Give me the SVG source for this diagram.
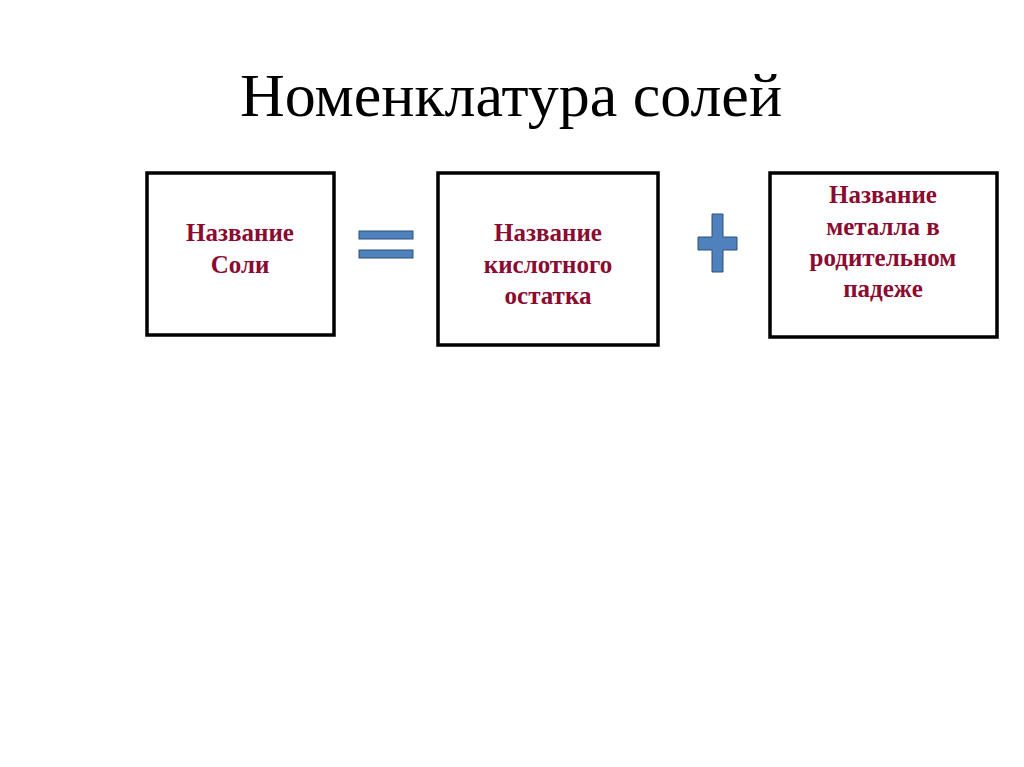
<svg xmlns="http://www.w3.org/2000/svg" width="1024" height="767" viewBox="0 0 1024 767">
<style>
.box{fill:#fff;stroke:#000;stroke-width:3.5}
.t{font-family:"Liberation Serif",serif;font-weight:bold;font-size:25px;fill:#8B0A30;text-anchor:middle}
.sym{fill:#4F81BD;stroke:#2F4F7A;stroke-width:1}
</style>
<rect width="1024" height="767" fill="#fff"/>
<text x="511" y="116" font-family="Liberation Serif,serif" font-size="62" text-anchor="middle">Номенклатура солей</text>
<g id="n1"><rect class="box" x="147" y="173" width="187" height="162"/>
<text class="t" x="240" y="241">Название</text><text class="t" x="240" y="273">Соли</text></g>
<g id="eq"><rect class="sym" x="359" y="231" width="54" height="8"/><rect class="sym" x="359" y="250" width="54" height="8"/></g>
<g id="n2"><rect class="box" x="438" y="173" width="220" height="172"/>
<text class="t" x="548" y="241">Название</text><text class="t" x="548" y="273">кислотного</text><text class="t" x="548" y="304">остатка</text></g>
<g id="plus"><path class="sym" d="M712 214h11v23h14v13h-14v22h-11v-22h-14v-13h14z"/></g>
<g id="n3"><rect class="box" x="770" y="173" width="227" height="164"/>
<text class="t" x="883" y="203">Название</text><text class="t" x="883" y="235">металла в</text><text class="t" x="883" y="266">родительном</text><text class="t" x="883" y="297">падеже</text></g>
<g id="connectors"/>
</svg>
